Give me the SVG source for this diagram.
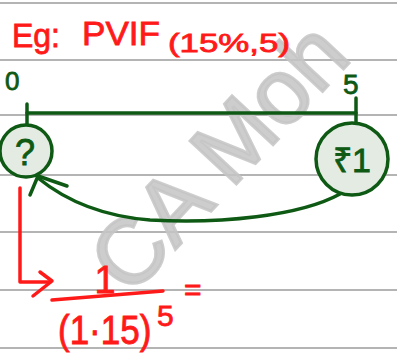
<svg xmlns="http://www.w3.org/2000/svg" width="397" height="355" viewBox="0 0 397 355">
<style>
.rule{stroke:#b4b4b4;stroke-width:2}
.red{fill:#ff1a1a;stroke:#ff1a1a;stroke-width:0.8;font-family:"Liberation Sans",Arial,sans-serif}
.green{fill:#0e5a14;stroke:#0e5a14;stroke-width:0.8;font-family:"Liberation Sans",Arial,sans-serif}
.gl{stroke:#0e5a14;stroke-width:3.5;fill:none;stroke-linecap:round;stroke-linejoin:round}
.rl{stroke:#ff1a1a;stroke-width:3.5;fill:none;stroke-linecap:round;stroke-linejoin:round}
.node{fill:#e3ebe3;stroke:#0e5a14;stroke-width:3.5}
</style>
<rect width="397" height="355" fill="#ffffff"/>
<g id="rules">
<line class="rule" x1="0" y1="3" x2="397" y2="3"/>
<line class="rule" x1="0" y1="60" x2="397" y2="60"/>
<line class="rule" x1="0" y1="115" x2="397" y2="115"/>
<line class="rule" x1="0" y1="175" x2="397" y2="175"/>
<line class="rule" x1="0" y1="232" x2="397" y2="232"/>
<line class="rule" x1="0" y1="290" x2="397" y2="290"/>
<line class="rule" x1="0" y1="348" x2="397" y2="348"/>
</g>
<text x="130" y="298" transform="rotate(-47 130 298)" font-family="Liberation Sans,Arial,sans-serif" font-size="92" fill="#c4c4c4" fill-opacity="0.85" stroke="#c4c4c4" stroke-width="3" stroke-opacity="0.85">CA Moh</text>
<g id="title">
<text class="red" x="12" y="47" font-size="33" textLength="48" lengthAdjust="spacingAndGlyphs">Eg:</text>
<text class="red" x="82" y="45" font-size="34" textLength="78" lengthAdjust="spacingAndGlyphs">PVIF</text>
<text class="red" x="168" y="52" font-size="26" textLength="122" lengthAdjust="spacingAndGlyphs">(15%,5)</text>
</g>
<g id="labels">
<text class="green" x="5" y="90" font-size="26">0</text>
<text class="green" x="343" y="94" font-size="28">5</text>
</g>
<g id="connectors">
<line class="gl" x1="27" y1="113" x2="356" y2="113"/>
<line class="gl" x1="27" y1="104" x2="27" y2="124"/>
<line class="gl" x1="356" y1="98" x2="356" y2="123"/>
<path class="gl" d="M340 194 C300 216 220 224 150 220 C100 216 65 200 38 178"/>
<path class="gl" d="M30 195 L38 176 L67 186"/>
<path class="rl" d="M20 188 L20 282 L50 282"/>
<path class="rl" d="M40 272 L52 281 L33 296"/>
</g>
<g id="node-left">
<circle class="node" cx="26" cy="151" r="26"/>
<text class="green" x="25" y="165" font-size="36" text-anchor="middle">?</text>
</g>
<g id="node-right">
<circle class="node" cx="352" cy="159" r="36"/>
<text class="green" x="352" y="172" font-size="34" text-anchor="middle">₹1</text>
</g>
<g id="formula">
<text class="red" x="105" y="293" font-size="38" text-anchor="middle">1</text>
<path class="rl" d="M52 300 L163 291"/>
<text class="red" transform="translate(58 344) scale(1 1.15)" x="0" y="0" font-size="35">(1·15)</text>
<text class="red" x="157" y="326" font-size="30">5</text>
<text class="red" x="184" y="300" font-size="30">=</text>
</g>
</svg>
